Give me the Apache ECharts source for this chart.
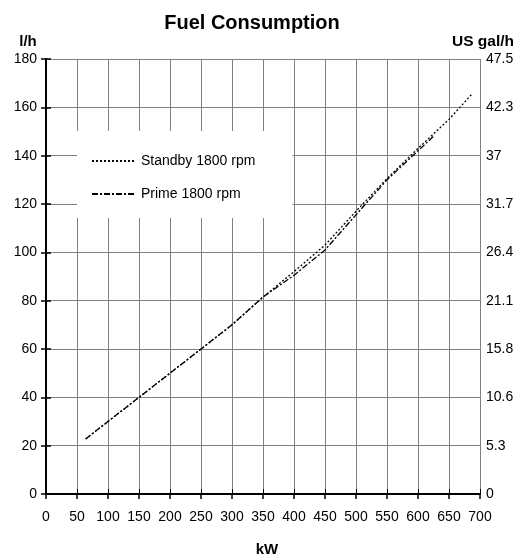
<!DOCTYPE html>
<html>
<head>
<meta charset="utf-8">
<script src="https://cdn.jsdelivr.net/npm/echarts@6/dist/echarts.min.js"></script>
<style>html,body{margin:0;padding:0;background:#fff;}#c{width:523px;height:557px;}</style>
</head>
<body>
<div id="c"></div>
<script>
var standbyKW = [64, 100, 150, 200, 250, 300, 350, 400, 450, 500, 550, 600, 650, 687];
var standbyLh = [22.8, 30, 40, 50, 60, 70, 81.5, 92, 103, 117, 130.5, 143, 155, 165.5];
var primeKW = [64, 100, 150, 200, 250, 300, 350, 400, 450, 500, 550, 600, 625];
var primeLh = [22.8, 30, 40, 50, 60, 70, 81.5, 90.5, 101, 115.5, 130, 142, 148];
var rightLabels = ['0', '5.3', '10.6', '15.8', '21.1', '26.4', '31.7', '37', '42.3', '47.5'];

function pairs(xs, ys) { return xs.map(function (x, i) { return [x, ys[i]]; }); }

var font = 'Liberation Sans, Arial, sans-serif';
var chart = echarts.init(document.getElementById('c'));
chart.setOption({
  animation: false,
  backgroundColor: '#fff',
  textStyle: { fontFamily: font },
  title: [
    { text: 'Fuel Consumption', left: 247, top: 8, textAlign: 'center', textStyle: { fontSize: 20, fontWeight: 'bold', color: '#000', fontFamily: font } },
    { text: 'l/h', left: 23, top: 29, textAlign: 'center', textStyle: { fontSize: 15, fontWeight: 'bold', color: '#000', fontFamily: font } },
    { text: 'US gal/h', left: 478, top: 29, textAlign: 'center', textStyle: { fontSize: 15.5, fontWeight: 'bold', color: '#000', fontFamily: font } },
    { text: 'kW', left: 262, top: 537, textAlign: 'center', textStyle: { fontSize: 15, fontWeight: 'bold', color: '#000', fontFamily: font } }
  ],
  legend: {
    orient: 'vertical',
    left: 77, top: 131,
    backgroundColor: '#fff',
    padding: [23, 37, 17, 14],
    itemGap: 19,
    itemWidth: 44, itemHeight: 14,
    itemStyle: { opacity: 0 },
    textStyle: { fontSize: 14, color: '#000', fontFamily: font },
    data: ['Standby 1800 rpm', 'Prime 1800 rpm']
  },
  grid: { left: 46, right: 43, top: 59, bottom: 63 },
  xAxis: [
    {
      type: 'value', min: 0, max: 700, interval: 50, position: 'bottom',
      axisLine: { show: true, lineStyle: { color: '#000', width: 2 } },
      axisTick: { show: true, length: 5, lineStyle: { color: '#000', width: 1.5 } },
      axisLabel: { margin: 16, fontSize: 14, color: '#000', fontFamily: font },
      splitLine: { show: true, lineStyle: { color: '#808080', width: 1 } }
    },
    {
      type: 'value', min: 0, max: 700, interval: 50, position: 'top',
      axisLine: { show: true, lineStyle: { color: '#000', width: 1.5 } },
      axisTick: { show: true, length: 5, lineStyle: { color: '#000', width: 1 } },
      axisLabel: { show: false },
      splitLine: { show: false }
    }
  ],
  yAxis: [
    {
      type: 'value', min: 0, max: 180, interval: 20, position: 'left',
      axisLine: { show: true, lineStyle: { color: '#000', width: 2 } },
      axisTick: { show: true, length: 5, lineStyle: { color: '#000', width: 1.5 } },
      axisLabel: { margin: 9, fontSize: 14, color: '#000', fontFamily: font },
      splitLine: { show: true, lineStyle: { color: '#808080', width: 1 } }
    },
    {
      type: 'value', min: 0, max: 180, interval: 20, position: 'right',
      axisLine: { show: true, lineStyle: { color: '#000', width: 2 } },
      axisTick: { show: true, length: 5, lineStyle: { color: '#000', width: 1.5 } },
      axisLabel: { margin: 6, fontSize: 14, color: '#000', fontFamily: font,
        formatter: function (v) { return rightLabels[Math.round(v / 20)]; } },
      splitLine: { show: false }
    }
  ],
  series: [
    {
      name: 'Standby 1800 rpm', type: 'line', symbol: 'none', smooth: false,
      data: pairs(standbyKW, standbyLh),
      lineStyle: { color: '#000', width: 1.3, type: [2, 2] },
      itemStyle: { color: '#000' }
    },
    {
      name: 'Prime 1800 rpm', type: 'line', symbol: 'none', smooth: false,
      data: pairs(primeKW, primeLh),
      lineStyle: { color: '#000', width: 1.3, type: [6, 2, 2, 2] },
      itemStyle: { color: '#000' }
    }
  ]
});
</script>
</body>
</html>
